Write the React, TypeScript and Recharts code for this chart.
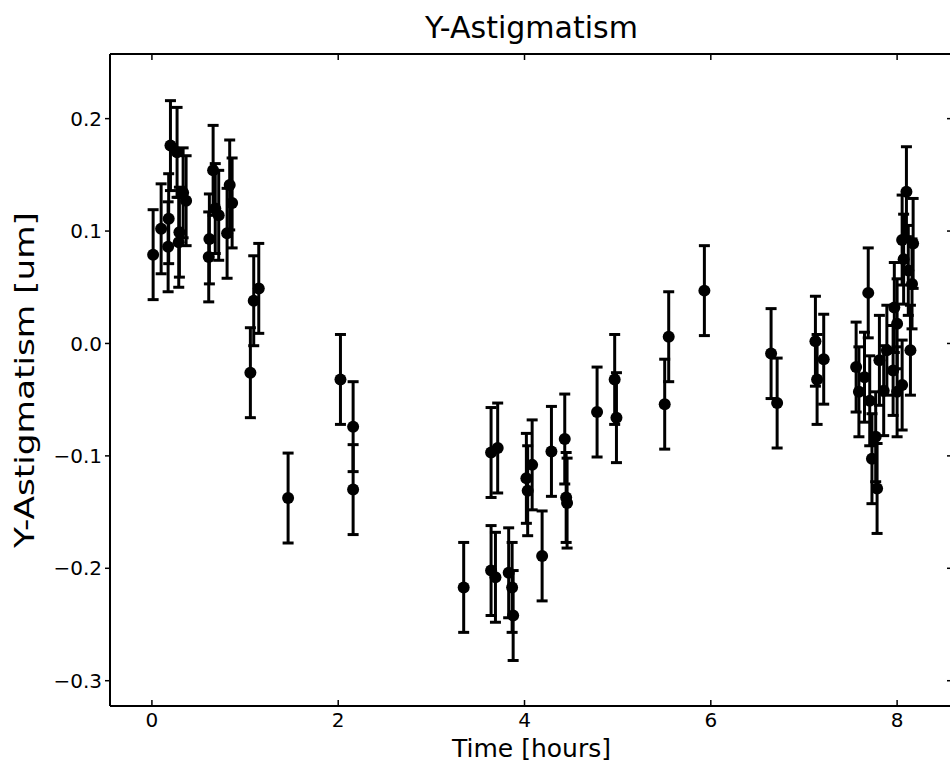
import {
    ScatterChart,
    Scatter,
    XAxis,
    YAxis,
    ErrorBar,
    Label,
} from "recharts";

// time of each measurement [hours]
const TIME_HOURS = [
    0.013, 0.099, 0.18, 0.174, 0.199, 0.27, 0.288, 0.295, 0.335, 0.367,
    0.61, 0.617, 0.657, 0.68, 0.717, 0.807, 0.835, 0.861,
    1.057, 1.093, 1.147, 1.462,
    2.024, 2.16, 2.16,
    3.347, 3.641, 3.712, 3.641, 3.688, 3.83, 3.867, 3.878,
    4.02, 4.034, 4.082, 4.189, 4.289, 4.432, 4.447, 4.457,
    4.779, 4.968, 4.987, 5.505, 5.548, 5.931, 6.647, 6.712,
    7.123, 7.141, 7.212,
    7.56, 7.59, 7.65, 7.69, 7.706, 7.73, 7.77, 7.785, 7.81, 7.856,
    7.89, 7.957, 7.97, 8.0, 8.0, 8.054, 8.054, 8.07, 8.1, 8.12,
    8.143, 8.16, 8.172,
];

// measured Y-astigmatism [um]
const Y_ASTIG = [
    0.079, 0.102, 0.111, 0.086, 0.176, 0.17, 0.09, 0.099, 0.134, 0.127,
    0.077, 0.093, 0.154, 0.12, 0.114, 0.098, 0.141, 0.125,
    -0.026, 0.038, 0.049, -0.1375,
    -0.032, -0.074, -0.13,
    -0.217, -0.097, -0.093, -0.202, -0.208, -0.204, -0.217, -0.242,
    -0.12, -0.131, -0.108, -0.189, -0.096, -0.085, -0.137, -0.142,
    -0.061, -0.032, -0.066, -0.054, 0.006, 0.047, -0.009, -0.053,
    0.002, -0.032, -0.014,
    -0.021, -0.043, -0.03, 0.045, -0.051, -0.1025, -0.083, -0.129, -0.015, -0.042,
    -0.006, -0.024, 0.032, 0.0175, -0.043, -0.037, 0.092, 0.075, 0.135, 0.065,
    -0.006, 0.053, 0.089,
];

// error bar half-length, the same for every point in the plot
const Y_ERR = 0.04;

const X_TICKS = [0, 2, 4, 6, 8];
const Y_TICKS = [-0.3, -0.2, -0.1, 0, 0.1, 0.2];

const X_DOMAIN: [number, number] = [-0.45, 8.6];
const Y_DOMAIN: [number, number] = [-0.3225, 0.2575];

const data = TIME_HOURS.map((t, i) => ({
    t,
    v: Y_ASTIG[i],
    err: Y_ERR,
}));

const FONT = "'DejaVu Sans', sans-serif";
const INK = "#000000";

const fmtY = (v: number) => v.toFixed(1).replace("-", "\u2212");
const noLabel = () => "";

const Dot = (props: any) => (
    <circle cx={props.cx} cy={props.cy} r={6} fill={INK} />
);

const YTitle = () => (
    <text
        transform="translate(34,380) rotate(-90)"
        textAnchor="middle"
        fontFamily={FONT}
        fontSize={26}
        fill={INK}
        textLength={336}
        lengthAdjust="spacingAndGlyphs"
    >
        Y-Astigmatism [um]
    </text>
);

const spine = { stroke: INK, strokeWidth: 2 };
const tickStroke = { stroke: INK, strokeWidth: 1.5 };

export default function App() {
    return (
        <div
            style={{
                position: "absolute",
                left: 0,
                top: 0,
                width: 950,
                height: 768,
                overflow: "hidden",
                background: "#fff",
                fontFamily: FONT,
            }}
        >
            <div
                style={{
                    position: "absolute",
                    left: 110,
                    width: 843,
                    top: 10,
                    textAlign: "center",
                    fontSize: 30,
                    lineHeight: "35px",
                    color: INK,
                }}
            >
                Y-Astigmatism
            </div>

            <ScatterChart
                width={960}
                height={768}
                margin={{ top: 53, right: 6, bottom: 0, left: 0 }}
            >
                <XAxis
                    type="number"
                    dataKey="t"
                    domain={X_DOMAIN}
                    ticks={X_TICKS}
                    allowDataOverflow
                    height={62}
                    tickSize={-6}
                    tickMargin={13}
                    axisLine={spine}
                    tickLine={tickStroke}
                    tick={{ fill: INK, fontSize: 20, fontFamily: FONT }}
                >
                    <Label
                        value="Time [hours]"
                        position="insideBottom"
                        offset={11}
                        style={{ fontSize: 25, fill: INK, fontFamily: FONT }}
                    />
                </XAxis>
                <XAxis
                    xAxisId="top"
                    orientation="top"
                    type="number"
                    dataKey="t"
                    domain={X_DOMAIN}
                    ticks={X_TICKS}
                    allowDataOverflow
                    height={1}
                    tickSize={-6}
                    tickFormatter={noLabel}
                    axisLine={spine}
                    tickLine={tickStroke}
                />
                <YAxis
                    type="number"
                    dataKey="v"
                    domain={Y_DOMAIN}
                    ticks={Y_TICKS}
                    allowDataOverflow
                    width={110}
                    tickSize={5}
                    tickMargin={3}
                    tickFormatter={fmtY}
                    axisLine={spine}
                    tickLine={tickStroke}
                    tick={{ fill: INK, fontSize: 20, fontFamily: FONT }}
                >
                    <Label content={<YTitle />} />
                </YAxis>
                <YAxis
                    yAxisId="right"
                    orientation="right"
                    type="number"
                    dataKey="v"
                    domain={Y_DOMAIN}
                    ticks={Y_TICKS}
                    allowDataOverflow
                    width={1}
                    tickSize={-6}
                    tickFormatter={noLabel}
                    axisLine={spine}
                    tickLine={tickStroke}
                />

                <Scatter
                    data={data}
                    fill={INK}
                    shape={<Dot />}
                    isAnimationActive={false}
                >
                    <ErrorBar
                        dataKey="err"
                        direction="y"
                        width={5.5}
                        stroke={INK}
                        strokeWidth={3}
                    />
                </Scatter>
            </ScatterChart>
        </div>
    );
}
